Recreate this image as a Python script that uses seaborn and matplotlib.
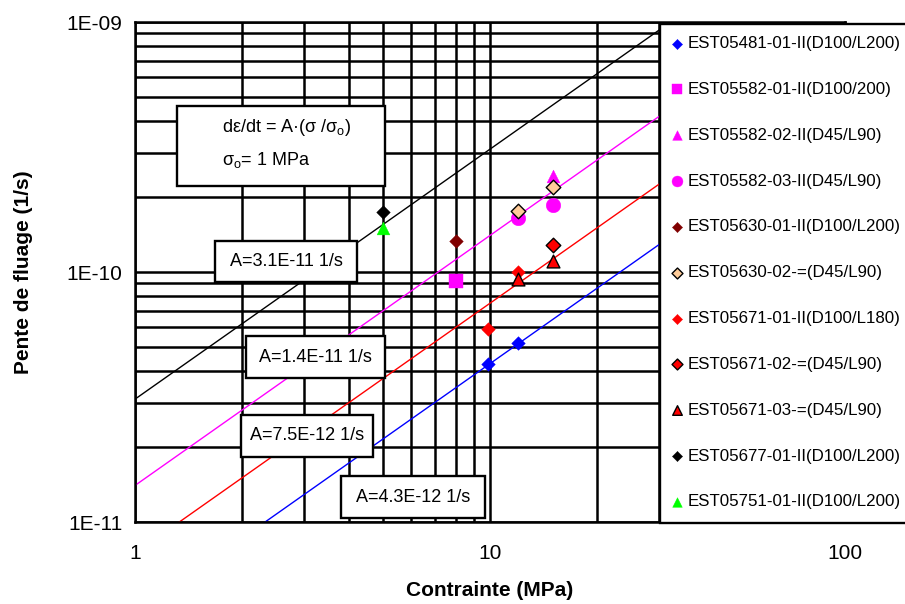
import numpy as np
import pandas as pd
import matplotlib
matplotlib.use("Agg")
import matplotlib.pyplot as plt
import seaborn as sns
from matplotlib.patches import Rectangle
from matplotlib.ticker import FixedLocator, FixedFormatter, LogLocator, NullFormatter

sns.set_style("white")
plt.rcParams["font.family"] = ["Liberation Sans", "DejaVu Sans"]
plt.rcParams["mathtext.fontset"] = "custom"
plt.rcParams["mathtext.rm"] = "Liberation Sans"
plt.rcParams["mathtext.it"] = "Liberation Sans:italic"
plt.rcParams["mathtext.bf"] = "Liberation Sans:bold"
plt.rcParams["text.color"] = "black"
plt.rcParams["axes.labelcolor"] = "black"

# Creep tests: stress (MPa) and creep slope (1/s)
series_labels = [
    "EST05481-01-II(D100/L200)",
    "EST05582-01-II(D100/200)",
    "EST05582-02-II(D45/L90)",
    "EST05582-03-II(D45/L90)",
    "EST05630-01-II(D100/L200)",
    "EST05630-02-=(D45/L90)",
    "EST05671-01-II(D100/L180)",
    "EST05671-02-=(D45/L90)",
    "EST05671-03-=(D45/L90)",
    "EST05677-01-II(D100/L200)",
    "EST05751-01-II(D100/L200)",
]
series_stress = [
    [9.9, 12],
    [8],
    [15],
    [12, 15],
    [8],
    [12, 15],
    [9.9, 12],
    [15],
    [12, 15],
    [5],
    [5],
]
series_rate = [
    [4.3e-11, 5.2e-11],
    [9.2e-11],
    [2.43e-10],
    [1.64e-10, 1.85e-10],
    [1.33e-10],
    [1.75e-10, 2.18e-10],
    [5.9e-11, 1.0e-10],
    [1.28e-10],
    [9.4e-11, 1.11e-10],
    [1.73e-10],
    [1.5e-10],
]

# Power-law fits  de/dt = A * (sigma / sigma_o)
fit_A = [3.1e-11, 1.4e-11, 7.5e-12, 4.3e-12]
fit_labels = ["A=3.1E-11 1/s", "A=1.4E-11 1/s", "A=7.5E-12 1/s", "A=4.3E-12 1/s"]
fit_stress = [1, 30]

x_ticks = [1, 10, 100]
x_tick_labels = ["1", "10", "100"]
y_ticks = [1e-11, 1e-10, 1e-9]
y_tick_labels = ["1E-11", "1E-10", "1E-09"]

# marker styles
markers = ["D", "s", "^", "o", "D", "D", "D", "D", "^", "D", "^"]
faces = ["#0000FF", "#FF00FF", "#FF00FF", "#FF00FF", "#800000", "#FFCC99",
         "#FF0000", "#FF0000", "#FF0000", "#000000", "#00FF00"]
edges = ["#0000FF", "#FF00FF", "#FF00FF", "#FF00FF", "#800000", "#000000",
         "#FF0000", "#000000", "#000000", "#000000", "#00FF00"]
msizes = [48, 95, 85, 110, 48, 55, 48, 55, 85, 48, 85]
fit_colors = ["#000000", "#FF00FF", "#FF0000", "#0000FF"]

W, H = 905, 604
fig = plt.figure(figsize=(W / 100, H / 100), dpi=100)
ax = fig.add_axes([135 / W, 1 - 522 / H, 710 / W, 500 / H])
ax.set_xscale("log")
ax.set_yscale("log")
ax.set_xlim(1, 100)
ax.set_ylim(1e-11, 1e-9)

fx = np.array(fit_stress, dtype=float)
for A, col in zip(fit_A, fit_colors):
    sns.lineplot(x=fx, y=A * fx, ax=ax, color=col, linewidth=1.0,
                 legend=False, zorder=2)

for lab, xs, ys, m, fc, ec, s in zip(series_labels, series_stress, series_rate,
                                     markers, faces, edges, msizes):
    df = pd.DataFrame({"x": xs, "y": ys})
    lw = 1.0 if ec != fc else 0.3
    sns.scatterplot(data=df, x="x", y="y", ax=ax, marker=m, color=fc,
                    edgecolor=ec, linewidth=lw, s=s, label=lab, zorder=5)

# grid and axes
ax.xaxis.set_major_locator(FixedLocator(x_ticks))
ax.xaxis.set_major_formatter(FixedFormatter(x_tick_labels))
ax.yaxis.set_major_locator(FixedLocator(y_ticks))
ax.yaxis.set_major_formatter(FixedFormatter(y_tick_labels))
ax.xaxis.set_minor_locator(LogLocator(base=10, subs=np.arange(2, 10)))
ax.yaxis.set_minor_locator(LogLocator(base=10, subs=np.arange(2, 10)))
ax.xaxis.set_minor_formatter(NullFormatter())
ax.yaxis.set_minor_formatter(NullFormatter())
ax.set_axisbelow(True)
ax.grid(which="both", color="black", linewidth=1.8)
ax.tick_params(which="minor", length=0)
ax.tick_params(which="major", length=5, width=1.6, direction="out",
               color="black", labelsize=15, labelcolor="black")
ax.tick_params(axis="x", pad=11)
ax.tick_params(axis="y", pad=4)
for sp in ax.spines.values():
    sp.set_color("black")
    sp.set_linewidth(1.8)

ax.set_xlabel("Contrainte (MPa)", fontsize=15, fontweight="bold")
ax.set_ylabel("Pente de fluage (1/s)", fontsize=15, fontweight="bold")
ax.xaxis.set_label_coords(0.5, -0.118)
ax.yaxis.set_label_coords(-0.143, 0.5)

tf = fig.transFigure


def px_box(x0, y0, x1, y1, z=6):
    r = Rectangle((x0 / W, 1 - y1 / H), (x1 - x0) / W, (y1 - y0) / H,
                  transform=tf, facecolor="white", edgecolor="black",
                  linewidth=1.7, zorder=z, clip_on=False)
    ax.add_patch(r)


# formula box
px_box(177, 106, 385, 186)
ax.text(222 / W, 1 - 128 / H, "d\u03b5/dt = A\u00b7(\u03c3 /\u03c3$_\\mathrm{o}$)",
        transform=tf, fontsize=13, ha="left", va="center", zorder=7)
ax.text(222 / W, 1 - 160 / H, "\u03c3$_\\mathrm{o}$= 1 MPa",
        transform=tf, fontsize=13, ha="left", va="center", zorder=7)

# fit labels
fit_boxes = [(215, 241, 357, 282), (246, 336, 385, 378),
             (241, 415, 373, 457), (341, 476, 485, 518)]
for lab, (x0, y0, x1, y1) in zip(fit_labels, fit_boxes):
    px_box(x0, y0, x1, y1)
    ax.text((x0 + x1) / 2 / W, 1 - (y0 + y1) / 2 / H, lab, transform=tf,
            fontsize=13, ha="center", va="center", zorder=7)

# legend panel
px_box(660, 24, 912, 523, z=8)
handles, labels = ax.get_legend_handles_labels()
leg = ax.legend(handles, labels, loc="upper left",
                bbox_to_anchor=(670 / W, 1 - 36 / H), bbox_transform=tf,
                frameon=False, fontsize=12.2, handlelength=0.8,
                handletextpad=0.25, labelspacing=1.82, borderpad=0,
                borderaxespad=0, markerscale=0.75)
leg.set_zorder(9)

fig.savefig("out.png", dpi=100)
